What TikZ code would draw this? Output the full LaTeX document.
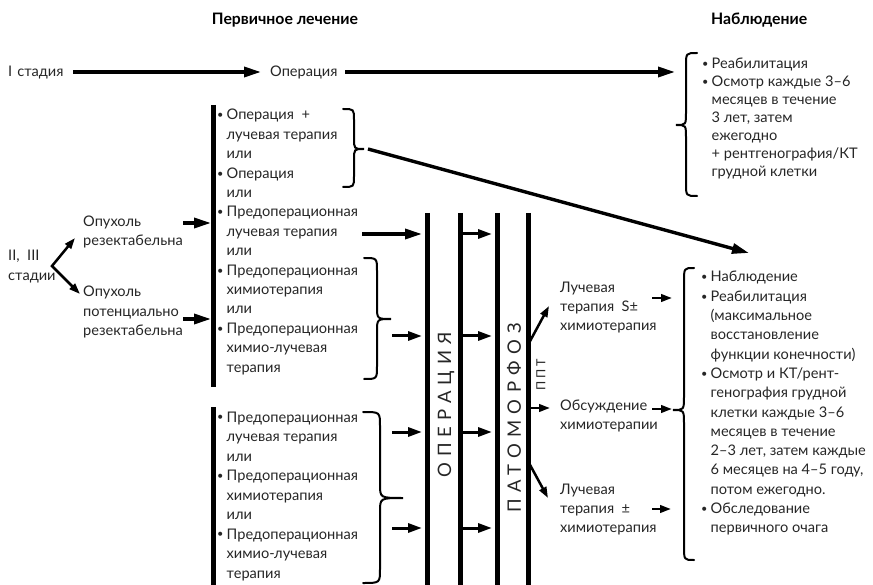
\documentclass[tikz,border=0pt]{standalone}
\usepackage{fontspec}
\usepackage{graphicx}
\setmainfont{Lato}
\usetikzlibrary{arrows.meta}
\newcommand{\bl}{\makebox[9.5pt][l]{\raisebox{0.15ex}{\scalebox{0.75}{•}}}}
\newcommand{\ind}{\hspace*{9.5pt}}
\newcommand{\lst}[2]{{\fontsize{14.6}{#1}\selectfont\begin{tabular}[t]{@{}l@{}}#2\end{tabular}}}
\newcommand{\mybrace}[7]{\draw[bracestyle] (#1,#4) .. controls (#2,#4) .. (#2,#4+#7) -- (#2,#5-#7) .. controls (#2,#5) .. (#3,#5) .. controls (#2,#5) .. (#2,#5+#7) -- (#2,#6-#7) .. controls (#2,#6) .. (#1,#6);}
\tikzset{
  txt/.style={anchor=base west, inner sep=0pt, font=\fontsize{14.6}{19}\selectfont, text=black!85},
  ttl/.style={inner sep=0pt, font=\bfseries\fontsize{15.8}{18}\selectfont},
  arr/.style={line width=3.4pt, -{Triangle[length=17pt,width=10pt]}},
  marr/.style={line width=3pt, -{Triangle[length=14pt,width=9pt]}},
  sarr/.style={line width=2.5pt, -{Triangle[length=11pt,width=7.5pt]}},
  darr/.style={line width=2.5pt, line join=miter, {Triangle[length=11pt,width=7.5pt]}-{Triangle[length=11pt,width=7.5pt]}},
  bar/.style={line width=5pt},
  bracestyle/.style={line width=2pt, line cap=round},
  rot/.style={rotate=90, inner sep=0pt, text=black!85},
}
\begin{document}
\begin{tikzpicture}[x=1pt,y=-1pt]
\useasboundingbox (0,0) rectangle (873,585);
% titles
\node[ttl, anchor=base] (t1) at (285,25) {Первичное лечение};
\node[ttl, anchor=base west] (t2) at (711,25) {Наблюдение};
% stage I
\node[txt] (st1) at (8,77) {I\hspace{5pt}стадия};
\node[txt] (op1) at (270,77) {Операция};
\coordinate (a1s) at (73,72); \coordinate (a1e) at (261,72);
\coordinate (a2s) at (345,72); \coordinate (a2e) at (675,72);
\draw[arr] (a1s) -- (a1e);
\draw[arr] (a2s) -- (a2e);
% top right
\mybrace{697}{686}{676}{53}{125}{196}{13}
\node[txt] (obs1) at (702,69) {\lst{18}{\bl Реабилитация\\ \bl Осмотр каждые 3–6\\ \ind месяцев в течение\\ \ind 3 лет, затем\\ \ind ежегодно\\ \ind + рентгенография/КТ\\ \ind грудной клетки}};
% stages II, III
\node[txt] (st23) at (8,261) {\lst{20}{II,\ \ III\\стадии}};
\coordinate (fork) at (52,266); \coordinate (fu) at (75,238); \coordinate (fd) at (80,294);
\draw[darr] (fu) -- (fork) -- (fd);
\node[txt] (res) at (83,227) {\lst{19}{Опухоль\\резектабельна}};
\node[txt] (pres) at (83,297) {\lst{19.5}{Опухоль\\потенциально\\резектабельна}};
\coordinate (ra) at (183,223); \coordinate (rb) at (211,223);
\coordinate (pa) at (183,319); \coordinate (pb) at (211,319);
\draw[arr] (ra) -- (rb);
\draw[arr] (pa) -- (pb);
% bars
\coordinate (b0t) at (213,105); \coordinate (b0b) at (213,387);
\coordinate (b0t2) at (213,407); \coordinate (b0b2) at (213,585);
\draw[bar] (b0t) -- (b0b);
\draw[bar] (b0t2) -- (b0b2);
\foreach \x/\n in {427/b1,460/b2,497/b3,528/b4}{
  \coordinate (\n t) at (\x,213); \coordinate (\n b) at (\x,585);
  \draw[bar] (\n t) -- (\n b);
}
% left lists
\node[txt] (l1) at (217,120) {\lst{19.4}{\bl Операция \ +\\ \ind лучевая терапия\\ \ind или\\ \bl Операция\\ \ind или\\ \bl Предоперационная\\ \ind лучевая терапия\\ \ind или\\ \bl Предоперационная\\ \ind химиотерапия\\ \ind или\\ \bl Предоперационная\\ \ind химио-лучевая\\ \ind терапия}};
\node[txt] (l2) at (217,422) {\lst{19.5}{\bl Предоперационная\\ \ind лучевая терапия\\ \ind или\\ \bl Предоперационная\\ \ind химиотерапия\\ \ind или\\ \bl Предоперационная\\ \ind химио-лучевая\\ \ind терапия}};
% braces
\mybrace{343}{354}{364}{109}{149}{187}{11}
\mybrace{364}{377}{391}{258}{319}{379}{13}
\mybrace{363}{380}{403}{412}{498}{583}{14}
% diagonal
\coordinate (d1) at (368,149); \coordinate (d2) at (749,253);
\draw[arr] (d1) -- (d2);
% arrows to bar 1
\coordinate (la0) at (362,234); \coordinate (lb0) at (422,234);
\draw[arr] (la0) -- (lb0);
\foreach \y/\n in {336/1,432/2,528/3}{
  \coordinate (la\n) at (392,\y); \coordinate (lb\n) at (422,\y);
  \draw[marr] (la\n) -- (lb\n);
}
% arrows bar2 -> bar3
\foreach \y/\n in {234/0,336/1,432/2,528/3}{
  \coordinate (ma\n) at (462,\y); \coordinate (mb\n) at (492,\y);
  \draw[marr] (ma\n) -- (mb\n);
}
% rotated labels
\node[rot, font=\fontsize{18.5}{20}\selectfont\addfontfeature{LetterSpace=33}] (oper) at (446,405) {ОПЕРАЦИЯ};
\node[rot, font=\fontsize{18.5}{20}\selectfont\addfontfeature{LetterSpace=34}] (pat) at (514,418) {ПАТОМОРФОЗ};
\node[rot, font=\fontsize{12.5}{14}\selectfont\addfontfeature{LetterSpace=20}] (ppt) at (541,375) {ППТ};
% arrows from bar 4
\coordinate (p0u) at (529,343); \coordinate (p1u) at (549,306);
\coordinate (p0m) at (530,408); \coordinate (p1m) at (550,408);
\coordinate (p0d) at (529,463); \coordinate (p1d) at (548,498);
\draw[sarr] (p0u) -- (p1u);
\draw[sarr] (p0m) -- (p1m);
\draw[sarr] (p0d) -- (p1d);
\node[txt] (ch1) at (560,293) {\lst{19}{Лучевая\\терапия \ S±\\химиотерапия}};
\node[txt] (ch2) at (560,410) {\lst{19}{Обсуждение\\химиотерапии}};
\node[txt] (ch3) at (560,494) {\lst{19}{Лучевая\\терапия \ ±\\химиотерапия}};
\coordinate (c1a) at (652,298); \coordinate (c1b) at (672,298);
\coordinate (c2a) at (652,409); \coordinate (c2b) at (672,409);
\coordinate (c3a) at (652,509); \coordinate (c3b) at (671,509);
\draw[sarr] (c1a) -- (c1b);
\draw[sarr] (c2a) -- (c2b);
\draw[sarr] (c3a) -- (c3b);
% right brace and list
\mybrace{694}{684}{673}{268}{410}{560}{14}
\node[txt] (obs2) at (701,282) {\lst{19.3}{\bl Наблюдение\\ \bl Реабилитация\\ \ind (максимальное\\ \ind восстановление\\ \ind функции конечности)\\ \bl Осмотр и КТ/рент-\\ \ind генография грудной\\ \ind клетки каждые 3–6\\ \ind месяцев в течение\\ \ind 2–3 лет, затем каждые\\ \ind 6 месяцев на 4–5 году,\\ \ind потом ежегодно.\\ \bl Обследование\\ \ind первичного очага}};
\end{tikzpicture}
\end{document}
